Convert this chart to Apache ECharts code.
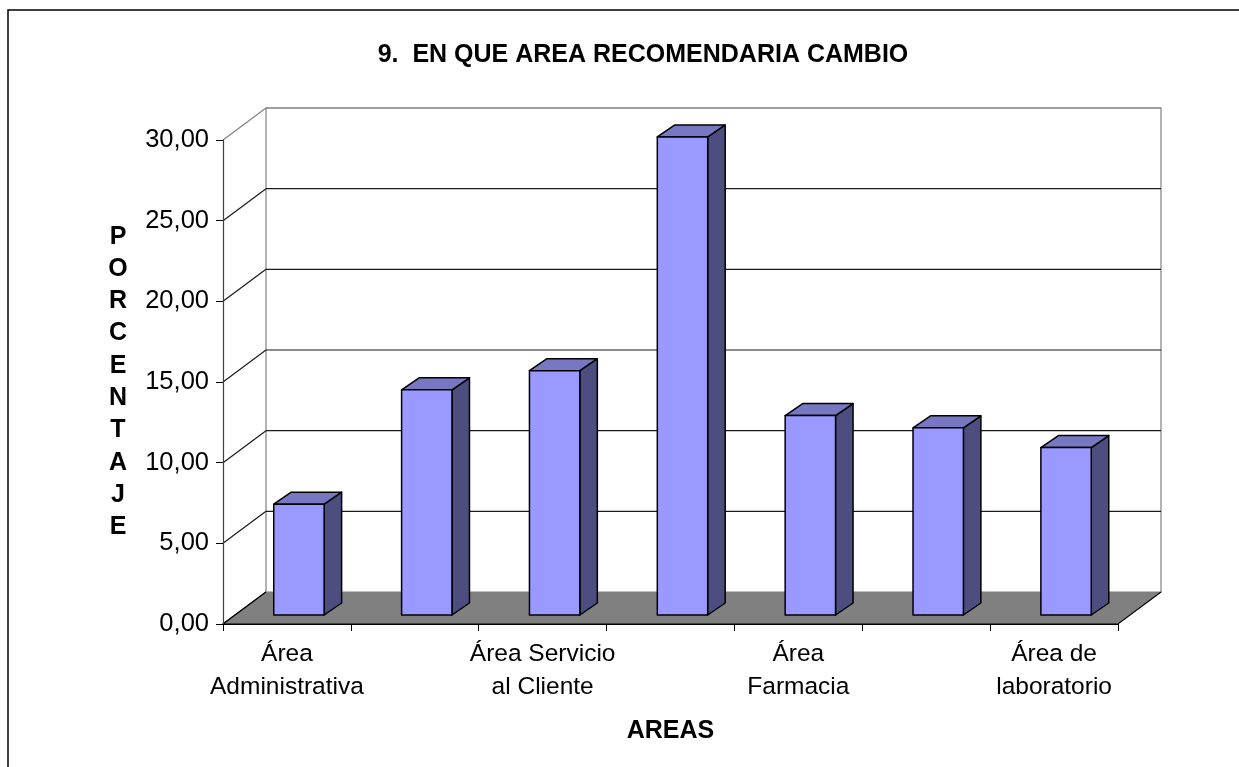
<!DOCTYPE html>
<html>
<head>
<meta charset="utf-8">
<style>
  html, body { margin: 0; padding: 0; background: #fff; }
  #chart { width: 1239px; height: 767px; }
</style>
<script src="https://cdn.jsdelivr.net/npm/echarts@6/dist/echarts.min.js"></script>
</head>
<body>
<div id="chart"></div>
<script>
// Áreas evaluadas (las etiquetas se muestran alternadas en el eje)
const categories = [
  'Área\nAdministrativa',
  'Área de\nEnfermería',
  'Área Servicio\nal Cliente',
  'Área de\nEmergencia',
  'Área\nFarmacia',
  'Área de\nConsulta Externa',
  'Área de\nlaboratorio'
];
// Porcentaje de respuestas por área
const porcentajes = [6.87, 13.96, 15.14, 29.63, 12.36, 11.60, 10.38];
// Marcas del eje de porcentaje
const yTicks = [0, 5, 10, 15, 20, 25, 30];

const FONT = '"Liberation Sans", Arial, sans-serif';

// Oblique projection used for the pseudo-3D look
const WALL_DX = 43, WALL_DY = -32;     // depth of the floor / back wall
const FACE_DX = 12, FACE_DY = -9;      // where the bar fronts sit inside the floor
const BAR_DX = 17.5, BAR_DY = -12;     // bar depth
const BAR_WIDTH_RATIO = 0.394;

const FRAME = '#808080';
const GRID = '#1a1a1a';

function renderWalls(params, api) {
  const cs = params.coordSys;
  const left = cs.x, right = cs.x + cs.width;
  const y0 = api.coord([0, yTicks[0]])[1];
  const yTop = api.coord([0, yTicks[yTicks.length - 1]])[1];
  const children = [];

  // side wall
  children.push({
    type: 'polygon',
    shape: { points: [[left, yTop], [left + WALL_DX, yTop + WALL_DY], [left + WALL_DX, y0 + WALL_DY], [left, y0]] },
    style: { fill: '#fff', stroke: null }
  });
  // back wall
  children.push({
    type: 'rect',
    shape: { x: left + WALL_DX, y: yTop + WALL_DY, width: right - left, height: y0 - yTop },
    style: { fill: '#fff', stroke: FRAME, lineWidth: 1.2 }
  });
  // gridlines on both walls
  yTicks.forEach(function (t, k) {
    const y = api.coord([0, t])[1];
    const isTop = k === yTicks.length - 1;
    if (t !== 0) {
      children.push({
        type: 'line',
        shape: { x1: left + WALL_DX, y1: y + WALL_DY, x2: right + WALL_DX, y2: y + WALL_DY },
        style: { stroke: isTop ? FRAME : GRID, lineWidth: 1.2 }
      });
    }
    children.push({
      type: 'line',
      shape: { x1: left, y1: y, x2: left + WALL_DX, y2: y + WALL_DY },
      style: { stroke: isTop ? FRAME : GRID, lineWidth: 1.2 }
    });
  });
  // floor
  children.push({
    type: 'polygon',
    shape: { points: [[left, y0], [left + WALL_DX, y0 + WALL_DY], [right + WALL_DX, y0 + WALL_DY], [right, y0]] },
    style: { fill: '#808080', stroke: null }
  });
  children.push({
    type: 'polyline',
    shape: { points: [[left + WALL_DX, y0 + WALL_DY], [left, y0], [right, y0], [right + WALL_DX, y0 + WALL_DY]] },
    style: { stroke: '#000', lineWidth: 1.2, fill: null }
  });
  return { type: 'group', children: children };
}

function renderBar(params, api) {
  const i = api.value(0);
  const v = api.value(1);
  const base = api.coord([i, 0]);
  const top = api.coord([i, v]);
  const bw = api.size([1, 0])[0] * BAR_WIDTH_RATIO;
  const cx = base[0] + FACE_DX;
  const L = cx - bw / 2, R = cx + bw / 2;
  const T = top[1] + FACE_DY, B = base[1] + FACE_DY;
  const line = { stroke: '#000', lineWidth: 1.5, lineJoin: 'round' };
  return {
    type: 'group',
    children: [
      {
        type: 'polygon',
        shape: { points: [[R, T], [R + BAR_DX, T + BAR_DY], [R + BAR_DX, B + BAR_DY], [R, B]] },
        style: Object.assign({ fill: '#4d4d80' }, line)
      },
      {
        type: 'polygon',
        shape: { points: [[L, T], [R, T], [R + BAR_DX, T + BAR_DY], [L + BAR_DX, T + BAR_DY]] },
        style: Object.assign({ fill: '#7777c2' }, line)
      },
      {
        type: 'rect',
        shape: { x: L, y: T, width: bw, height: B - T },
        style: Object.assign({ fill: '#9999ff' }, line)
      }
    ]
  };
}

const chart = echarts.init(document.getElementById('chart'), null, { renderer: 'canvas' });

chart.setOption({
  backgroundColor: '#fff',
  animation: false,
  textStyle: { fontFamily: FONT },
  grid: { left: 223, right: 121, top: 140, bottom: 143 },
  graphic: [
    {
      type: 'rect', z: 100, silent: true,
      shape: { x: 8, y: 10, width: 1300, height: 900 },
      style: { fill: null, stroke: '#000', lineWidth: 1.5 }
    },
    {
      type: 'text', z: 100,
      x: 643, y: 55,
      style: {
        text: '9.  EN QUE AREA RECOMENDARIA CAMBIO',
        textAlign: 'center', textVerticalAlign: 'middle',
        font: 'bold 25px ' + FONT, fill: '#000'
      }
    }
  ],
  xAxis: {
    type: 'category',
    data: categories,
    boundaryGap: true,
    z: 10,
    axisLine: { show: true, lineStyle: { color: '#000', width: 1.2 } },
    axisTick: { show: true, interval: 0, length: 7, lineStyle: { color: '#000' } },
    axisLabel: {
      interval: 1, color: '#000', fontFamily: FONT, fontSize: 24.5,
      lineHeight: 33, margin: 14
    },
    splitLine: { show: false },
    name: 'AREAS',
    nameLocation: 'middle',
    nameGap: 95,
    nameTextStyle: { color: '#000', fontFamily: FONT, fontSize: 25, fontWeight: 'bold' }
  },
  yAxis: {
    type: 'value',
    min: yTicks[0],
    max: yTicks[yTicks.length - 1],
    interval: 5,
    z: 10,
    axisLine: { show: true, lineStyle: { color: '#404040', width: 1.2 } },
    axisTick: { show: true, length: 7, lineStyle: { color: '#000' } },
    axisLabel: {
      color: '#000', fontFamily: FONT, fontSize: 25.5, margin: 14,
      formatter: function (v) { return v.toFixed(2).replace('.', ','); }
    },
    splitLine: { show: false },
    name: 'PORCENTAJE'.split('').join('\n'),
    nameLocation: 'middle',
    nameRotate: 0,
    nameGap: 105,
    nameTextStyle: {
      color: '#000', fontFamily: FONT, fontSize: 25, fontWeight: 'bold',
      lineHeight: 32.3, align: 'center', verticalAlign: 'middle'
    }
  },
  series: [
    {
      type: 'custom',
      name: 'planos',
      z: 1,
      silent: true,
      data: [[0, 0]],
      renderItem: renderWalls
    },
    {
      type: 'custom',
      name: 'Porcentaje',
      z: 5,
      data: porcentajes.map(function (v, i) { return [i, v]; }),
      encode: { x: 0, y: 1 },
      renderItem: renderBar
    }
  ]
});
</script>
</body>
</html>
